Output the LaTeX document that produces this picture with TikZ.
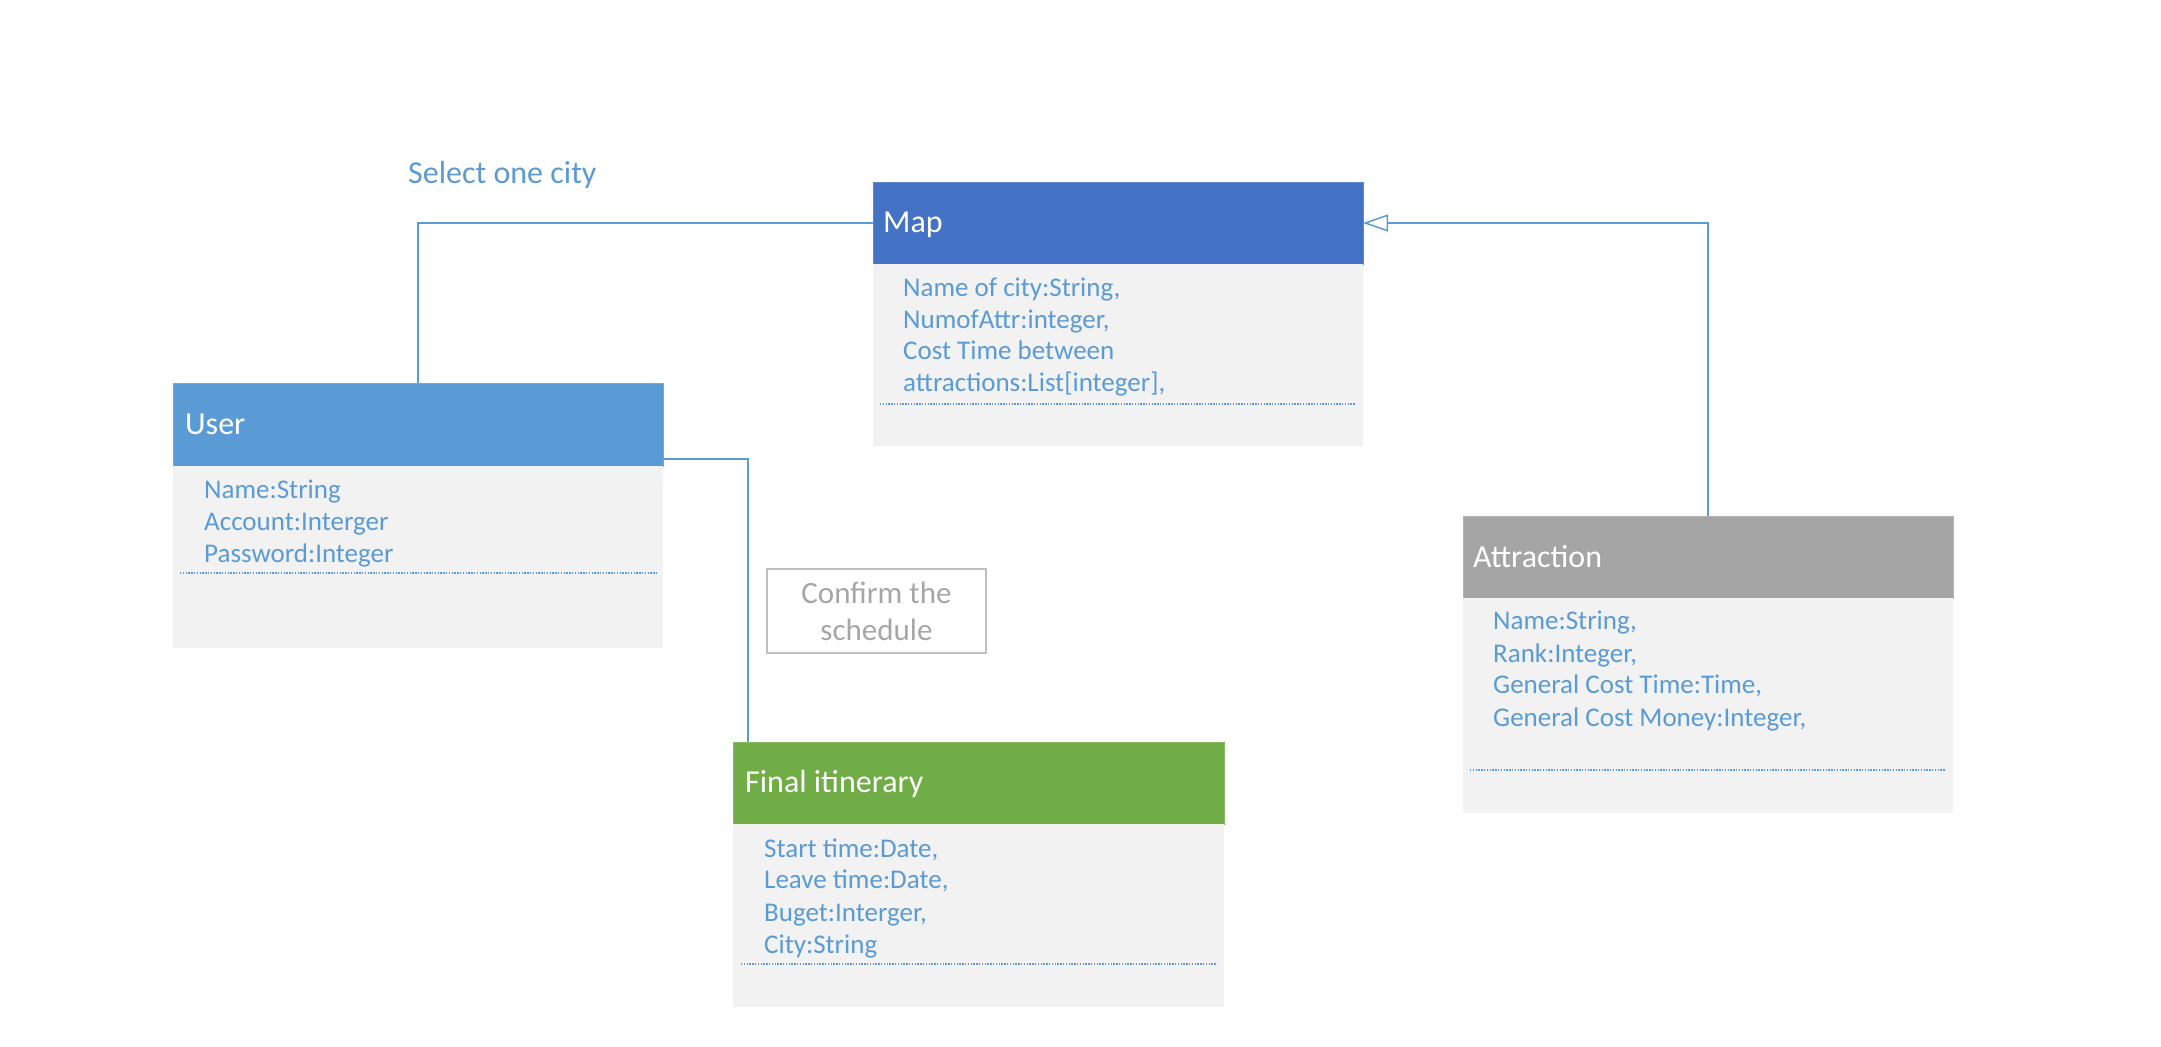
\documentclass[tikz,border=0pt]{standalone}
\usepackage{fontspec}
\setmainfont{Carlito}
\usetikzlibrary{arrows.meta}
\definecolor{mapblue}{HTML}{4472C4}
\definecolor{userblue}{HTML}{5B9BD5}
\definecolor{fingreen}{HTML}{70AD47}
\definecolor{attrgray}{HTML}{A5A5A5}
\definecolor{bodygray}{HTML}{F2F2F2}
\definecolor{txtblue}{HTML}{5B9BD5}
\definecolor{confgray}{HTML}{A6A6A6}
\definecolor{confborder}{HTML}{BFBFBF}
\begin{document}
\begin{tikzpicture}[x=1pt,y=-1pt,
  headbox/.style={anchor=north west, inner sep=0pt, outer sep=0pt, draw=#1!85!white, line width=0.8pt, fill=#1},
  bodybox/.style={anchor=north west, inner sep=0pt, outer sep=0pt, fill=bodygray},
  title/.style={anchor=base west, inner sep=0pt, text=white, font=\fontsize{32}{38}\selectfont},
  attr/.style={anchor=base west, inner sep=0pt, text=txtblue, font=\fontsize{27}{32}\selectfont},
  sepline/.style={draw=txtblue, line width=1.1pt, dash pattern=on 1.4pt off 1.4pt},
  conn/.style={draw=userblue, line width=1.5pt}]
\useasboundingbox (0,0) rectangle (2161,1047);

% Map
\node[headbox=mapblue, minimum width=490pt, minimum height=82pt] (maphead) at (873,182) {};
\node[bodybox, minimum width=490pt, minimum height=182pt] (mapbody) at (873,264) {};
\node[title] (maptitle) at (883,232) {Map};
\node[attr] (mapa1) at (903,296) {Name of city:String,};
\node[attr] (mapa2) at (903,328) {NumofAttr:integer,};
\node[attr] (mapa3) at (903,359) {Cost Time between};
\node[attr] (mapa4) at (903,391) {attractions:List[integer],};
\draw[sepline] (880,404) -- (1356,404);

% User
\node[headbox=userblue, minimum width=490pt, minimum height=83pt] (userhead) at (173,383) {};
\node[bodybox, minimum width=490pt, minimum height=182pt] (userbody) at (173,466) {};
\node[title] (usertitle) at (185,434) {User};
\node[attr] (usera1) at (204,498) {Name:String};
\node[attr] (usera2) at (204,530) {Account:Interger};
\node[attr] (usera3) at (204,562) {Password:Integer};
\draw[sepline] (180,573) -- (657,573);

% Final itinerary
\node[headbox=fingreen, minimum width=491pt, minimum height=82pt] (finalhead) at (733,742) {};
\node[bodybox, minimum width=491pt, minimum height=183pt] (finalbody) at (733,824) {};
\node[title] (finaltitle) at (745,792) {Final itinerary};
\node[attr] (finala1) at (764,857) {Start time:Date,};
\node[attr] (finala2) at (764,888) {Leave time:Date,};
\node[attr] (finala3) at (764,921) {Buget:Interger,};
\node[attr] (finala4) at (764,953) {City:String};
\draw[sepline] (741,964) -- (1217,964);

% Attraction
\node[headbox=attrgray, minimum width=490pt, minimum height=82pt] (attrhead) at (1463,516) {};
\node[bodybox, minimum width=490pt, minimum height=215pt] (attrbody) at (1463,598) {};
\node[title] (attrtitle) at (1473,567) {Attraction};
\node[attr] (attra1) at (1493,629) {Name:String,};
\node[attr] (attra2) at (1493,662) {Rank:Integer,};
\node[attr] (attra3) at (1493,693) {General Cost Time:Time,};
\node[attr] (attra4) at (1493,726) {General Cost Money:Integer,};
\draw[sepline] (1470,770) -- (1946,770);

% Labels
\node[anchor=base west, inner sep=0pt, text=txtblue, font=\fontsize{32}{38}\selectfont] (selectlbl) at (408,183) {Select one city};
\node[draw=confborder, line width=1.5pt, minimum width=219pt, minimum height=84pt, inner sep=0pt, align=center, text=confgray, font=\fontsize{31}{37}\selectfont] (confirm) at (876.5,611) {Confirm the\\schedule};

% Connectors
\draw[conn] (userhead.north) |- (maphead.west);
\draw[conn] ([yshift=-34.5pt]userhead.east) -| ([xshift=-230.5pt]finalhead.north);
\draw[conn, -{Triangle[open, length=25pt, width=17pt, line width=1.5pt]}] (attrhead.north) |- (maphead.east);
\end{tikzpicture}
\end{document}
